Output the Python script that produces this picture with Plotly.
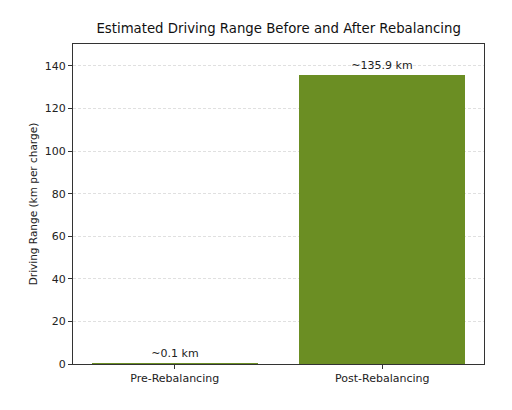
import plotly.graph_objects as go

categories = ["Pre-Rebalancing", "Post-Rebalancing"]
ranges_km = [0.1, 135.9]
labels = ["~0.1 km", "~135.9 km"]

fig = go.Figure()
fig.add_trace(go.Bar(
    x=[0, 1], y=ranges_km, width=0.8,
    marker=dict(color="#6B8E23", line=dict(width=0)),
    text=labels, textposition="outside", cliponaxis=False,
    textfont=dict(family="DejaVu Sans", size=11, color="#222"),
))
fig.update_layout(
    width=504, height=402,
    margin=dict(l=65, r=28, t=36, b=46, autoexpand=False),
    paper_bgcolor="white", plot_bgcolor="white",
    font=dict(family="DejaVu Sans", size=11, color="#222"),
    title=dict(text="Estimated Driving Range Before and After Rebalancing",
               x=0.537, xanchor="center", y=0.962, yanchor="top",
               font=dict(size=13.3, color="#111")),
    showlegend=False, bargap=0,
)
fig.update_xaxes(
    range=[-0.49, 1.49], tickvals=[0, 1], ticktext=categories, automargin=False,
    showline=True, linecolor="#333", linewidth=1, mirror=True,
    ticks="outside", ticklen=4, tickcolor="#333", showgrid=False, zeroline=False,
)
fig.update_yaxes(
    range=[0, 150.3], tickvals=[0, 20, 40, 60, 80, 100, 120, 140], automargin=False,
    title=dict(text="Driving Range (km per charge)", font=dict(size=10.5), standoff=5),
    showline=True, linecolor="#333", linewidth=1, mirror=True,
    ticks="outside", ticklen=4, tickcolor="#333",
    showgrid=True, gridcolor="#e0e0e0", griddash="3px,2px", gridwidth=0.7, zeroline=False,
)
fig.write_html("out.html")
